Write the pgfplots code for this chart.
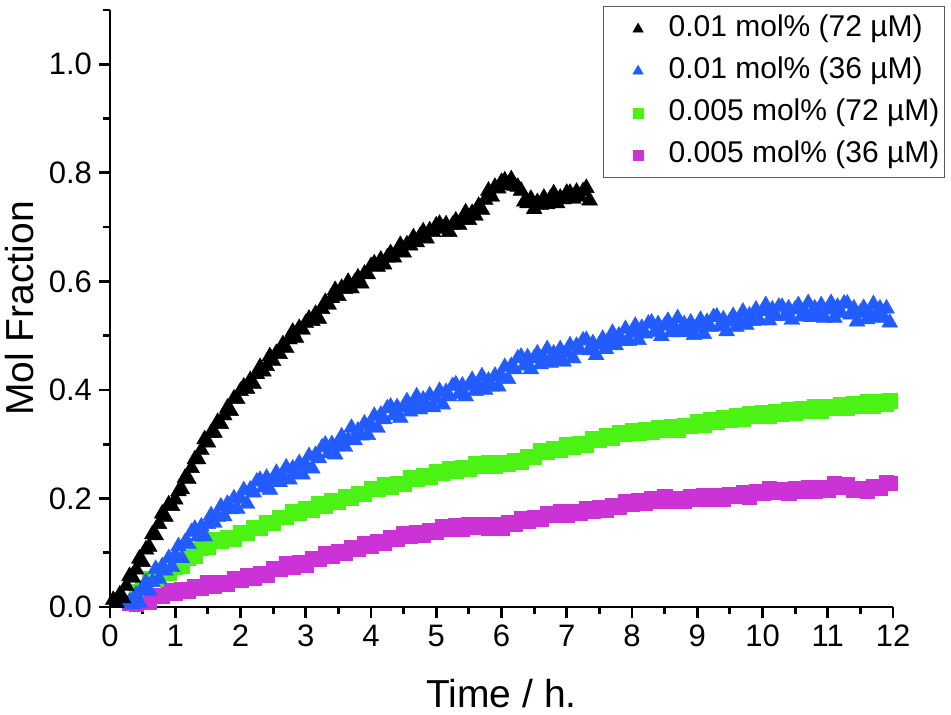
\documentclass[border=0pt]{standalone}
\usepackage{pgfplots}
\pgfplotsset{compat=1.18}
\usepackage{fontspec}
\setmainfont{Liberation Sans}
\definecolor{cblue}{RGB}{34,92,255}
\definecolor{cgreen}{RGB}{76,242,20}
\definecolor{cmag}{RGB}{204,51,214}
\pgfplotstableread{
t v
0.05 0.013
0.10 0.007
0.15 0.023
0.20 0.016
0.25 0.039
0.30 0.057
0.35 0.054
0.40 0.069
0.45 0.089
0.50 0.083
0.55 0.106
0.60 0.111
0.65 0.134
0.70 0.132
0.75 0.153
0.80 0.172
0.85 0.166
0.90 0.189
0.95 0.186
1.00 0.198
1.05 0.213
1.10 0.217
1.15 0.238
1.20 0.236
1.25 0.256
1.30 0.272
1.35 0.272
1.40 0.289
1.45 0.309
1.50 0.303
1.55 0.321
1.60 0.321
1.65 0.341
1.70 0.337
1.75 0.353
1.80 0.367
1.85 0.361
1.90 0.384
1.95 0.383
2.00 0.398
2.05 0.406
2.10 0.402
2.15 0.418
2.20 0.411
2.25 0.429
2.30 0.442
2.35 0.434
2.40 0.444
2.45 0.462
2.50 0.453
2.55 0.468
2.60 0.466
2.65 0.484
2.70 0.477
2.75 0.493
2.80 0.507
2.85 0.496
2.90 0.514
2.95 0.511
3.00 0.523
3.05 0.531
3.10 0.527
3.15 0.540
3.20 0.531
3.25 0.549
3.30 0.562
3.35 0.557
3.40 0.569
3.45 0.584
3.50 0.573
3.55 0.588
3.60 0.586
3.65 0.599
3.70 0.587
3.75 0.598
3.80 0.607
3.85 0.596
3.90 0.614
3.95 0.613
4.00 0.628
4.05 0.633
4.10 0.627
4.15 0.640
4.20 0.631
4.25 0.644
4.30 0.652
4.35 0.644
4.40 0.654
4.45 0.667
4.50 0.653
4.55 0.668
4.60 0.666
4.65 0.681
4.70 0.672
4.75 0.683
4.80 0.692
4.85 0.679
4.90 0.694
4.95 0.691
5.00 0.703
5.05 0.706
5.10 0.697
5.15 0.705
5.20 0.691
5.25 0.704
5.30 0.712
5.35 0.704
5.40 0.714
5.45 0.727
5.50 0.713
5.55 0.726
5.60 0.721
5.65 0.739
5.70 0.732
5.75 0.750
5.80 0.767
5.85 0.756
5.90 0.774
5.95 0.771
6.00 0.783
6.05 0.786
6.10 0.777
6.15 0.788
6.20 0.776
6.25 0.774
6.30 0.767
6.35 0.747
6.40 0.744
6.45 0.752
6.50 0.733
6.55 0.746
6.60 0.741
6.65 0.754
6.70 0.742
6.75 0.753
6.80 0.762
6.85 0.744
6.90 0.754
6.95 0.751
7.00 0.763
7.05 0.763
7.10 0.752
7.15 0.765
7.20 0.756
7.25 0.766
7.30 0.772
7.35 0.749
}\tblack
\pgfplotstableread{
t v
0.30 0.010
0.35 0.005
0.40 0.023
0.45 0.008
0.50 0.033
0.55 0.046
0.60 0.030
0.65 0.046
0.70 0.070
0.75 0.052
0.80 0.075
0.85 0.067
0.90 0.090
0.95 0.074
1.00 0.095
1.05 0.112
1.10 0.090
1.15 0.119
1.20 0.116
1.25 0.138
1.30 0.144
1.35 0.130
1.40 0.148
1.45 0.130
1.50 0.153
1.55 0.169
1.60 0.155
1.65 0.166
1.70 0.185
1.75 0.167
1.80 0.190
1.85 0.180
1.90 0.200
1.95 0.181
2.00 0.200
2.05 0.215
2.10 0.190
2.15 0.216
2.20 0.211
2.25 0.231
2.30 0.234
2.35 0.220
2.40 0.238
2.45 0.216
2.50 0.235
2.55 0.247
2.60 0.230
2.65 0.239
2.70 0.257
2.75 0.235
2.80 0.255
2.85 0.245
2.90 0.265
2.95 0.244
3.00 0.262
3.05 0.278
3.10 0.255
3.15 0.280
3.20 0.274
3.25 0.294
3.30 0.299
3.35 0.283
3.40 0.300
3.45 0.281
3.50 0.303
3.55 0.314
3.60 0.295
3.65 0.308
3.70 0.330
3.75 0.307
3.80 0.325
3.85 0.316
3.90 0.338
3.95 0.317
4.00 0.335
4.05 0.352
4.10 0.330
4.15 0.354
4.20 0.346
4.25 0.366
4.30 0.369
4.35 0.353
4.40 0.368
4.45 0.348
4.50 0.368
4.55 0.379
4.60 0.360
4.65 0.370
4.70 0.388
4.75 0.364
4.80 0.382
4.85 0.371
4.90 0.390
4.95 0.368
5.00 0.383
5.05 0.398
5.10 0.373
5.15 0.396
5.20 0.388
5.25 0.407
5.30 0.410
5.35 0.393
5.40 0.408
5.45 0.388
5.50 0.408
5.55 0.418
5.60 0.398
5.65 0.407
5.70 0.425
5.75 0.400
5.80 0.417
5.85 0.406
5.90 0.426
5.95 0.406
6.00 0.425
6.05 0.442
6.10 0.420
6.15 0.444
6.20 0.438
6.25 0.458
6.30 0.461
6.35 0.445
6.40 0.460
6.45 0.438
6.50 0.458
6.55 0.467
6.60 0.447
6.65 0.456
6.70 0.475
6.75 0.450
6.80 0.467
6.85 0.455
6.90 0.475
6.95 0.452
7.00 0.468
7.05 0.482
7.10 0.458
7.15 0.481
7.20 0.474
7.25 0.491
7.30 0.492
7.35 0.473
7.40 0.486
7.45 0.464
7.50 0.483
7.55 0.494
7.60 0.475
7.65 0.486
7.70 0.505
7.75 0.482
7.80 0.500
7.85 0.490
7.90 0.512
7.95 0.490
8.00 0.505
8.05 0.518
8.10 0.492
8.15 0.514
8.20 0.504
8.25 0.522
8.30 0.524
8.35 0.507
8.40 0.521
8.45 0.499
8.50 0.518
8.55 0.527
8.60 0.506
8.65 0.515
8.70 0.532
8.75 0.506
8.80 0.521
8.85 0.507
8.90 0.524
8.95 0.501
9.00 0.515
9.05 0.529
9.10 0.503
9.15 0.525
9.20 0.516
9.25 0.534
9.30 0.535
9.35 0.517
9.40 0.530
9.45 0.508
9.50 0.526
9.55 0.536
9.60 0.516
9.65 0.526
9.70 0.544
9.75 0.520
9.80 0.537
9.85 0.527
9.90 0.548
9.95 0.528
10.00 0.545
10.05 0.556
10.10 0.528
10.15 0.548
10.20 0.536
10.25 0.553
10.30 0.553
10.35 0.536
10.40 0.550
10.45 0.529
10.50 0.548
10.55 0.556
10.60 0.535
10.65 0.543
10.70 0.560
10.75 0.534
10.80 0.550
10.85 0.538
10.90 0.556
10.95 0.533
11.00 0.548
11.05 0.560
11.10 0.533
11.15 0.553
11.20 0.542
11.25 0.559
11.30 0.559
11.35 0.539
11.40 0.550
11.45 0.526
11.50 0.542
11.55 0.551
11.60 0.530
11.65 0.540
11.70 0.558
11.75 0.533
11.80 0.550
11.85 0.535
11.90 0.550
11.95 0.524
}\tblue
\pgfplotstableread{
t v
0.4 0.029
0.5 0.037
0.6 0.052
0.7 0.051
0.8 0.063
0.9 0.063
1.0 0.074
1.1 0.075
1.2 0.090
1.3 0.094
1.4 0.109
1.5 0.111
1.6 0.124
1.7 0.121
1.8 0.129
1.9 0.126
2.0 0.137
2.1 0.137
2.2 0.147
2.3 0.145
2.4 0.155
2.5 0.154
2.6 0.166
2.7 0.165
2.8 0.176
2.9 0.174
3.0 0.182
3.1 0.179
3.2 0.190
3.3 0.187
3.4 0.197
3.5 0.194
3.6 0.204
3.7 0.201
3.8 0.210
3.9 0.209
4.0 0.219
4.1 0.217
4.2 0.225
4.3 0.221
4.4 0.228
4.5 0.226
4.6 0.239
4.7 0.236
4.8 0.243
4.9 0.240
5.0 0.249
5.1 0.246
5.2 0.255
5.3 0.250
5.4 0.258
5.5 0.254
5.6 0.265
5.7 0.260
5.8 0.266
5.9 0.260
6.0 0.267
6.1 0.263
6.2 0.271
6.3 0.268
6.4 0.278
6.5 0.277
6.6 0.289
6.7 0.285
6.8 0.292
6.9 0.289
7.0 0.300
7.1 0.295
7.2 0.302
7.3 0.299
7.4 0.310
7.5 0.308
7.6 0.317
7.7 0.312
7.8 0.321
7.9 0.318
8.0 0.326
8.1 0.320
8.2 0.327
8.3 0.322
8.4 0.331
8.5 0.326
8.6 0.333
8.7 0.326
8.8 0.335
8.9 0.333
9.0 0.342
9.1 0.336
9.2 0.345
9.3 0.340
9.4 0.349
9.5 0.345
9.6 0.353
9.7 0.347
9.8 0.356
9.9 0.352
10.0 0.359
10.1 0.352
10.2 0.360
10.3 0.356
10.4 0.364
10.5 0.357
10.6 0.365
10.7 0.362
10.8 0.369
10.9 0.362
11.0 0.370
11.1 0.366
11.2 0.374
11.3 0.367
11.4 0.375
11.5 0.371
11.6 0.378
11.7 0.371
11.8 0.379
11.9 0.374
11.95 0.380
}\tgreen
\pgfplotstableread{
t v
0.3 0.008
0.4 0.006
0.5 0.012
0.6 0.010
0.7 0.021
0.8 0.020
0.9 0.031
1.0 0.025
1.1 0.032
1.2 0.030
1.3 0.038
1.4 0.035
1.5 0.045
1.6 0.039
1.7 0.046
1.8 0.042
1.9 0.052
2.0 0.049
2.1 0.059
2.2 0.054
2.3 0.062
2.4 0.059
2.5 0.071
2.6 0.070
2.7 0.080
2.8 0.074
2.9 0.082
3.0 0.078
3.1 0.089
3.2 0.088
3.3 0.099
3.4 0.094
3.5 0.102
3.6 0.099
3.7 0.110
3.8 0.107
3.9 0.117
4.0 0.112
4.1 0.121
4.2 0.118
4.3 0.128
4.4 0.126
4.5 0.135
4.6 0.130
4.7 0.137
4.8 0.132
4.9 0.142
5.0 0.139
5.1 0.149
5.2 0.144
5.3 0.150
5.4 0.144
5.5 0.153
5.6 0.147
5.7 0.152
5.8 0.146
5.9 0.152
6.0 0.146
6.1 0.156
6.2 0.153
6.3 0.163
6.4 0.158
6.5 0.166
6.6 0.162
6.7 0.172
6.8 0.169
6.9 0.177
7.0 0.170
7.1 0.176
7.2 0.173
7.3 0.182
7.4 0.176
7.5 0.183
7.6 0.178
7.7 0.187
7.8 0.184
7.9 0.194
8.0 0.189
8.1 0.196
8.2 0.191
8.3 0.200
8.4 0.196
8.5 0.203
8.6 0.196
8.7 0.201
8.8 0.195
8.9 0.203
9.0 0.199
9.1 0.206
9.2 0.199
9.3 0.205
9.4 0.199
9.5 0.208
9.6 0.204
9.7 0.212
9.8 0.203
9.9 0.213
10.0 0.210
10.1 0.219
10.2 0.212
10.3 0.217
10.4 0.210
10.5 0.218
10.6 0.213
10.7 0.220
10.8 0.213
10.9 0.221
11.0 0.215
11.1 0.227
11.2 0.221
11.3 0.226
11.4 0.215
11.5 0.219
11.6 0.213
11.7 0.223
11.8 0.219
11.9 0.229
11.95 0.228
}\tmag
\begin{document}
\begin{tikzpicture}
\begin{axis}[
  name=ax,
  scale only axis,
  width=391.5pt, height=298.5pt,
  xmin=0, xmax=12, ymin=0, ymax=1.1,
  axis lines=left,
  axis line style={line width=1.4pt, -},
  xtick={0,1,...,12},
  ytick={0,0.2,0.4,0.6,0.8,1.0},
  minor xtick={0.5,1.5,...,11.5},
  minor ytick={0.1,0.3,0.5,0.7,0.9,1.1},
  tick style={line width=1.4pt, black},
  tick align=outside,
  major tick length=5.5pt,
  minor tick length=3.5pt,
  /pgf/number format/assume math mode=true,
  ticklabel style={font=\fontsize{15.5}{18}\selectfont},
  yticklabel style={/pgf/number format/.cd, fixed, fixed zerofill, precision=1},
  xlabel={Time / h.},
  ylabel={Mol Fraction},
  label style={font=\fontsize{19.5}{23}\selectfont},
  xlabel style={at={(axis description cs:0.5,-0.168)}, anchor=base},
  ylabel style={at={(axis description cs:-0.0983,0.5)}, anchor=base},
  legend style={
    at={(1.0664,1.0067)}, anchor=north east,
    draw=black!65, line width=0.6pt,
    font=\fontsize{15}{18}\selectfont,
    inner xsep=1.5pt, inner ysep=3pt,
    row sep=4.5pt, column sep=0pt,
    nodes={inner sep=1pt, text height=11pt, text depth=3.5pt},
  },
  legend cell align=left,
  reverse legend=true,
  legend image code/.code={\path (0pt,0pt) (29.5pt,0pt); \draw[#1, every mark/.append style={scale=0.65}] plot coordinates {(15.5pt,0pt)};},
]
\addplot[only marks, mark=square*, mark size=3.6pt, mark options={draw=cmag, fill=cmag, line width=0.2pt}] table {\tmag};
\addlegendentry{0.005 mol\% (36 µM)}
\addplot[only marks, mark=square*, mark size=3.6pt, mark options={draw=cgreen, fill=cgreen, line width=0.2pt}] table {\tgreen};
\addlegendentry{0.005 mol\% (72 µM)}
\addplot[only marks, mark=triangle*, mark size=4.6pt, mark options={draw=cblue, fill=cblue, line width=0.2pt}] table {\tblue};
\addlegendentry{0.01 mol\% (36 µM)}
\addplot[only marks, mark=triangle*, mark size=4.6pt, mark options={draw=black, fill=black, line width=0.2pt}] table {\tblack};
\addlegendentry{0.01 mol\% (72 µM)}
\end{axis}
\pgfresetboundingbox
\path[use as bounding box] (ax.south west) ++(-55pt,-54pt) rectangle ++(475.5pt,357.5pt);
\end{tikzpicture}
\end{document}
